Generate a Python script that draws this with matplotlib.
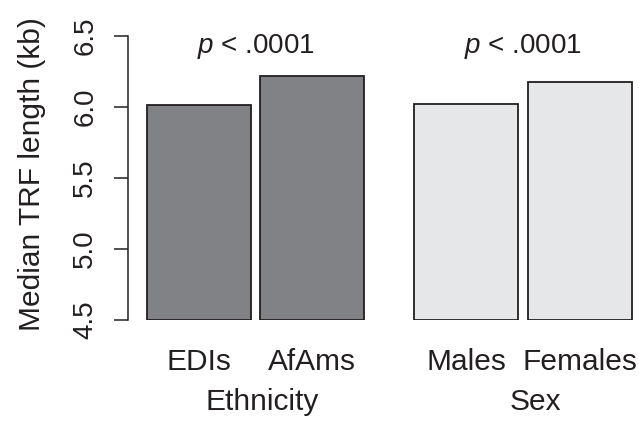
import matplotlib
matplotlib.use("Agg")
import matplotlib.pyplot as plt
import matplotlib.transforms as mtransforms

# ── data ─────────────────────────────────────────────────────────
bar_labels = ["EDIs", "AfAms", "Males", "Females"]
median_trf = [6.016, 6.218, 6.019, 6.174]
group_names = ["Ethnicity", "Sex"]
group_pvalues = ["< .0001", "< .0001"]
yticks = [4.5, 5.0, 5.5, 6.0, 6.5]

# ── style ────────────────────────────────────────────────────────
INK = "#231f20"
DARK = "#808285"
LIGHT = "#e6e7e8"
plt.rcParams["font.family"] = ["Liberation Sans", "DejaVu Sans"]
plt.rcParams["mathtext.fontset"] = "custom"
plt.rcParams["mathtext.it"] = "Liberation Sans:italic"
plt.rcParams["mathtext.rm"] = "Liberation Sans"
FS_NUM = 20     # numbers / p-values
FS_WORD = 21.5  # words

# bar layout: width 1, small gap inside a group, bigger gap between groups
width, inner_gap, outer_gap = 1.0, 0.09, 0.48
lefts = [0.0, width + inner_gap]
lefts += [lefts[1] + width + outer_gap, lefts[1] + 2 * width + outer_gap + inner_gap]
centers = [l + width / 2 for l in lefts]
colors = [DARK, DARK, LIGHT, LIGHT]
base = yticks[0]

fig = plt.figure(figsize=(6.39, 4.25), dpi=100)
ax = fig.add_axes([128 / 639, 1 - 320 / 425, 1 - 128 / 639, (320 - 36) / 425])

ax.bar(centers, [v - base for v in median_trf], bottom=base, width=width,
       color=colors, edgecolor=INK, linewidth=1.3)

ax.set_xlim(-0.183, 4.731)
ax.set_ylim(yticks[0], yticks[-1])
for s in ["top", "right", "bottom"]:
    ax.spines[s].set_visible(False)
ax.spines["left"].set_color(INK)
ax.spines["left"].set_linewidth(1.1)

ax.set_yticks(yticks)
ax.set_yticklabels([f"{t:.1f}" for t in yticks])
ax.tick_params(axis="y", length=10, width=1.1, color=INK, labelsize=FS_NUM,
               labelcolor=INK, pad=11.5)
plt.setp(ax.get_yticklabels(), rotation=90, va="center", ha="right")

ax.set_xticks(centers)
ax.set_xticklabels(bar_labels)
ax.tick_params(axis="x", length=0, labelsize=FS_WORD, labelcolor=INK, pad=20.5)

ax.set_ylabel("Median TRF length (kb)", fontsize=FS_WORD, color=INK)
ax.yaxis.set_label_coords(-0.16, 0.514)

# p-values above each group, group names below
trans = mtransforms.blended_transform_factory(ax.transData, ax.transAxes)
group_centers = [(lefts[0] + lefts[1] + width) / 2, (lefts[2] + lefts[3] + width) / 2]
for gx, p in zip(group_centers, group_pvalues):
    ax.text(gx, 6.38, f"$p$ {p}", ha="center", va="baseline", fontsize=FS_NUM, color=INK)

group_label_x = [1.106, 3.73]
for gx, name in zip(group_label_x, group_names):
    ax.text(gx, -0.317, name, ha="center", va="baseline", fontsize=FS_WORD,
            color=INK, transform=trans)

fig.savefig("out.png", dpi=100)
